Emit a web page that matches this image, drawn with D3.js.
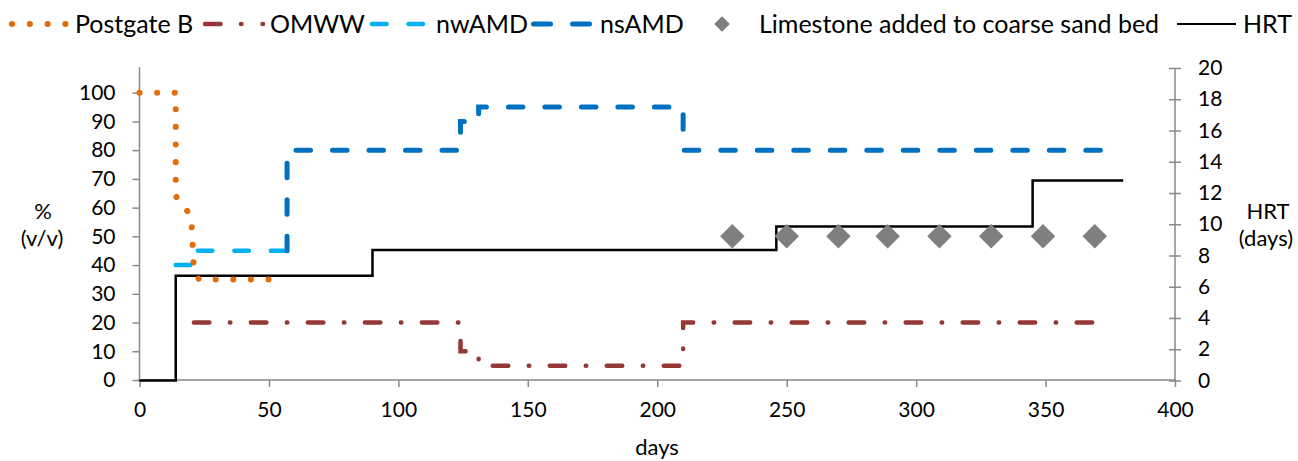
<!DOCTYPE html>
<html>
<head>
<meta charset="utf-8">
<script src="https://cdn.jsdelivr.net/npm/d3@7"></script>
<style>
  body { margin: 0; background: #fff; }
  svg text { font-family: Lato, "Open Sans", sans-serif; fill: #000; }
</style>
</head>
<body>
<svg id="chart" width="1298" height="461"></svg>
<script>
// ---- data ----
const postgateDays = [0, 14, 14, 20, 21, 23, 51];
const postgateVals = [100, 100, 64, 57, 38, 35, 35];

const omwwDays = [21, 124, 124, 131, 131, 210, 210, 375];
const omwwVals = [20, 20, 10, 10, 5, 5, 20, 20];

const nwamdDays = [14, 21, 21, 57];
const nwamdVals = [40, 40, 45, 45];

const nsamdDays = [57, 57, 124, 124, 131, 131, 210, 210, 375];
const nsamdVals = [45, 80, 80, 90, 90, 95, 95, 80, 80];

const limestoneDays = [229, 250, 270, 289, 309, 329, 349, 369];
const limestoneVals = [50, 50, 50, 50, 50, 50, 50, 50];

const hrtDays = [0, 14, 14, 90, 90, 246, 246, 345, 345, 380];
const hrtVals = [0, 0, 6.7, 6.7, 8.35, 8.35, 9.85, 9.85, 12.8, 12.8];

const xTicks = [0, 50, 100, 150, 200, 250, 300, 350, 400];
const leftTicks = [0, 10, 20, 30, 40, 50, 60, 70, 80, 90, 100];
const rightTicks = [0, 2, 4, 6, 8, 10, 12, 14, 16, 18, 20];

const legendLabels = ["Postgate B", "OMWW", "nwAMD", "nsAMD", "Limestone added to coarse sand bed", "HRT"];

// ---- scales ----
const svg = d3.select("#chart");
const x = d3.scaleLinear().domain([0, 400]).range([139.5, 1175]);
const yL = d3.scaleLinear().domain([0, 100]).range([380, 92.7]);
const yR = d3.scaleLinear().domain([0, 20]).range([380.5, 68]);

const axisColor = "#898989";
const fs = 21;      // tick labels
const fsT = 22;     // axis titles
const fsL = 25;     // legend

// ---- axes ----
const gx = svg.append("g").attr("transform", `translate(0,${yL(0)})`)
  .call(d3.axisBottom(x).tickValues(xTicks).tickSize(7).tickSizeOuter(0).tickPadding(15));
const gl = svg.append("g").attr("transform", `translate(${x(0)},0)`)
  .call(d3.axisLeft(yL).tickValues(leftTicks).tickSize(7).tickSizeOuter(0).tickPadding(17));
const gr = svg.append("g").attr("transform", `translate(${x(400)},0)`)
  .call(d3.axisRight(yR).tickValues(rightTicks).tickSize(6).tickSizeOuter(0).tickPadding(17));

[gx, gl, gr].forEach(g => {
  g.select(".domain").remove();
  g.selectAll(".tick line").attr("stroke", axisColor).attr("stroke-width", 1.5);
  g.selectAll(".tick text").style("font-size", fs + "px").style("font-family", "Lato");
});
gr.selectAll(".tick line").attr("x1", -6);

svg.append("line").attr("x1", x(0)).attr("x2", x(400)).attr("y1", yL(0)).attr("y2", yL(0))
  .attr("stroke", axisColor).attr("stroke-width", 1.5);
svg.append("line").attr("x1", x(0)).attr("x2", x(0)).attr("y1", yL(0) + 2).attr("y2", yR(20) - 1)
  .attr("stroke", axisColor).attr("stroke-width", 1.5);
svg.append("line").attr("x1", x(400)).attr("x2", x(400)).attr("y1", yL(0) + 2).attr("y2", yR(20))
  .attr("stroke", axisColor).attr("stroke-width", 1.5);

// axis titles
function title(xp, yp, t) {
  svg.append("text").attr("x", xp).attr("y", yp).attr("text-anchor", "middle")
    .style("font-size", fsT + "px").text(t);
}
title(43, 219, "%");
title(42, 246, "(v/v)");
title(1268, 219, "HRT");
title(1266, 246, "(days)");
title(657, 455, "days");

// ---- series ----
const lineL = d3.line().x(d => x(d[0])).y(d => yL(d[1]));
const lineR = d3.line().x(d => x(d[0])).y(d => yR(d[1]));
const zip = (a, b) => a.map((v, i) => [v, b[i]]);

const styles = {
  omww: { color: "#953735", width: 4.5, dash: "15.5 20.5 0.5 20.5" },
  nwamd: { color: "#00B0F0", width: 4.5, dash: "14.5 22" },
  nsamd: { color: "#0070C0", width: 5, dash: "14.5 22" },
  postgate: { color: "#E46C0A", width: 6, dash: "0.1 17.5" },
  hrt: { color: "#000000", width: 2.5, dash: null }
};

function drawLine(data, gen, st) {
  const p = svg.append("path").datum(data).attr("d", gen)
    .attr("fill", "none").attr("stroke", st.color).attr("stroke-width", st.width)
    .attr("stroke-linecap", st.dash ? "round" : "butt").attr("stroke-linejoin", "miter");
  if (st.dash) p.attr("stroke-dasharray", st.dash);
  return p;
}

drawLine(zip(hrtDays, hrtVals), lineR, styles.hrt);
drawLine(zip(omwwDays, omwwVals), lineL, styles.omww);
drawLine(zip(nwamdDays, nwamdVals), lineL, styles.nwamd);
drawLine(zip(nsamdDays, nsamdVals), lineL, styles.nsamd);
drawLine(zip(postgateDays, postgateVals), lineL, styles.postgate);

const diamond = d3.symbol().type(d3.symbolSquare).size(300);
svg.append("g").selectAll("path").data(zip(limestoneDays, limestoneVals)).join("path")
  .attr("d", diamond)
  .attr("transform", d => `translate(${x(d[0])},${yL(d[1])}) rotate(45)`)
  .attr("fill", "#7F7F7F");

// ---- legend ----
const ly = 24;
const lg = svg.append("g");
function legLine(x1, x2, st) {
  const l = lg.append("line").attr("x1", x1).attr("x2", x2).attr("y1", ly).attr("y2", ly)
    .attr("stroke", st.color).attr("stroke-width", st.width)
    .attr("stroke-linecap", st.dash ? "round" : "butt");
  if (st.dash) l.attr("stroke-dasharray", st.dash);
}
function legText(xp, t) {
  lg.append("text").attr("x", xp).attr("y", 33).style("font-size", fsL + "px").text(t);
}
legLine(12, 66, { color: styles.postgate.color, width: 6, dash: "0.1 17.7" });
legText(75, legendLabels[0]);
legLine(205, 264, { color: styles.omww.color, width: 4.5, dash: "15.5 20.5 0.5 21 0.5 100" });
legText(270, legendLabels[1]);
legLine(372, 425, { color: styles.nwamd.color, width: 4.5, dash: "14.5 22" });
legText(436, legendLabels[2]);
legLine(533.5, 590, { color: styles.nsamd.color, width: 5, dash: "17 22" });
legText(600, legendLabels[3]);
lg.append("path").attr("d", d3.symbol().type(d3.symbolSquare).size(120))
  .attr("transform", `translate(722,${ly}) rotate(45)`).attr("fill", "#7F7F7F");
legText(759, legendLabels[4]);
legLine(1177, 1236, { color: "#000", width: 2, dash: null });
legText(1243, legendLabels[5]);
</script>
</body>
</html>
